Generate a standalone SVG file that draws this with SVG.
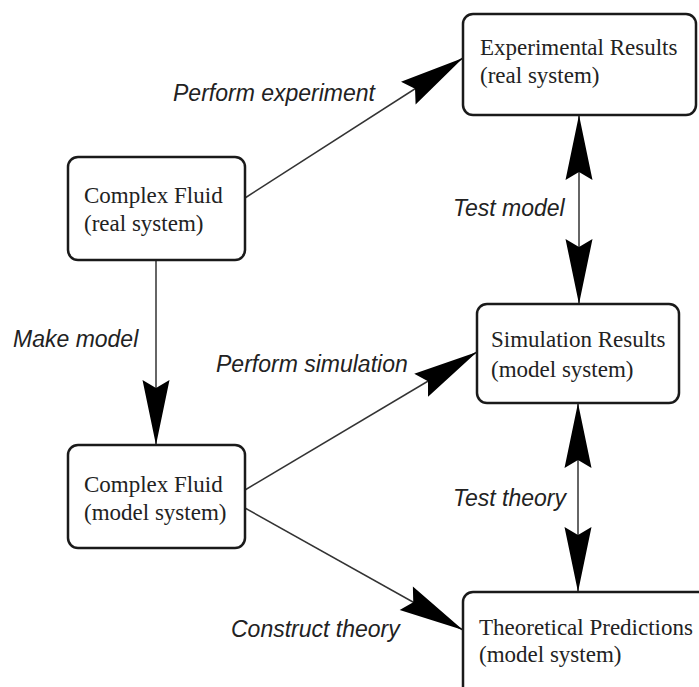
<svg xmlns="http://www.w3.org/2000/svg" width="699" height="687" viewBox="0 0 699 687">
<style>
.box{fill:#fff;stroke:#1a1a1a;stroke-width:2.5}
.bt{font-family:"Liberation Serif","Times New Roman",serif;font-size:23px;fill:#222}
.lbl{font-family:"Liberation Sans",Arial,sans-serif;font-style:italic;font-size:23px;fill:#222}
.edge{stroke:#333;stroke-width:1.5;fill:none}
</style>
<defs>
<marker id="ah" markerUnits="userSpaceOnUse" markerWidth="80" markerHeight="40" viewBox="-70 -20 80 40" refX="0" refY="0" orient="auto">
<path d="M0,0 L-65,-13.5 L-57,0 L-65,13.5 Z" fill="#000"/>
</marker>
<marker id="ahs" markerUnits="userSpaceOnUse" markerWidth="80" markerHeight="40" viewBox="-70 -20 80 40" refX="0" refY="0" orient="auto-start-reverse">
<path d="M0,0 L-65,-13.5 L-57,0 L-65,13.5 Z" fill="#000"/>
</marker>
</defs>
<rect width="699" height="687" fill="#fff"/>
<g id="connectors">
<line class="edge" x1="245" y1="198" x2="463" y2="58" marker-end="url(#ah)"/>
<line class="edge" x1="156" y1="260" x2="156" y2="445" marker-end="url(#ah)"/>
<line class="edge" x1="245" y1="490" x2="477" y2="352" marker-end="url(#ah)"/>
<line class="edge" x1="245" y1="508" x2="463" y2="630" marker-end="url(#ah)"/>
<line class="edge" x1="579" y1="115" x2="579" y2="304" marker-start="url(#ahs)" marker-end="url(#ahs)"/>
<line class="edge" x1="578" y1="403" x2="578" y2="592" marker-start="url(#ahs)" marker-end="url(#ahs)"/>
<text class="lbl" x="173" y="101">Perform experiment</text>
<text class="lbl" x="453" y="216">Test model</text>
<text class="lbl" x="13" y="347">Make model</text>
<text class="lbl" x="216" y="372">Perform simulation</text>
<text class="lbl" x="453" y="506">Test theory</text>
<text class="lbl" x="231" y="637">Construct theory</text>
</g>
<g id="cf-real">
<rect class="box" x="68" y="157" width="177" height="103" rx="10"/>
<text class="bt" x="84" y="203">Complex Fluid</text>
<text class="bt" x="84" y="231">(real system)</text>
</g>
<g id="exp-results">
<rect class="box" x="463" y="14" width="233" height="101" rx="10"/>
<text class="bt" x="480" y="55">Experimental Results</text>
<text class="bt" x="480" y="83">(real system)</text>
</g>
<g id="sim-results">
<rect class="box" x="477" y="304" width="202" height="99" rx="10"/>
<text class="bt" x="491" y="347">Simulation Results</text>
<text class="bt" x="491" y="377">(model system)</text>
</g>
<g id="cf-model">
<rect class="box" x="68" y="445" width="177" height="103" rx="10"/>
<text class="bt" x="84" y="492">Complex Fluid</text>
<text class="bt" x="84" y="520">(model system)</text>
</g>
<g id="theory">
<rect class="box" x="463" y="592" width="260" height="120" rx="10"/>
<text class="bt" x="479" y="635">Theoretical Predictions</text>
<text class="bt" x="479" y="662">(model system)</text>
</g>
</svg>
